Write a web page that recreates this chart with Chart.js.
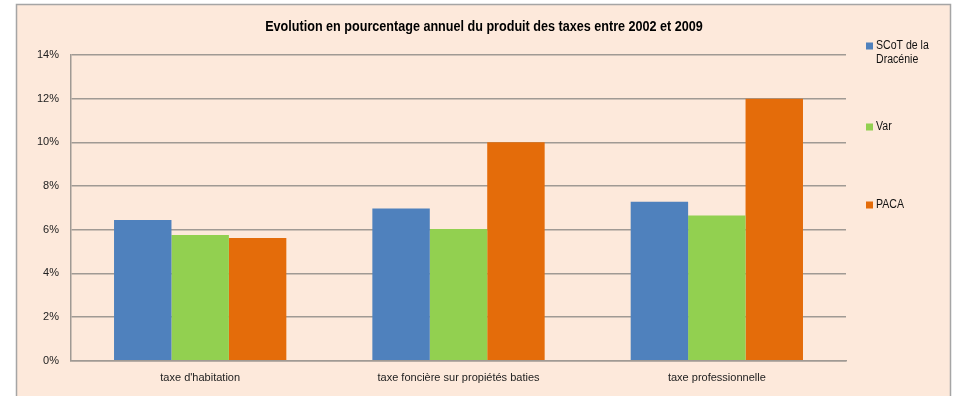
<!DOCTYPE html>
<html>
<head>
<meta charset="utf-8">
<script src="https://cdn.jsdelivr.net/npm/chart.js@4"></script>
<style>
  html, body { margin: 0; padding: 0; background: #ffffff; }
  #wrap { width: 960px; height: 396px; }
</style>
</head>
<body>
<div id="wrap"><canvas id="taxChart" width="960" height="396"></canvas></div>
<script>
const categories = ["taxe d'habitation", "taxe foncière sur propiétés baties", "taxe professionnelle"];
const seriesNames = [["SCoT de la", "Dracénie"], ["Var"], ["PACA"]];
const scotValues = [6.45, 6.97, 7.28];
const varValues = [5.76, 6.03, 6.65];
const pacaValues = [5.62, 10.0, 12.0];
const seriesColors = ["#4F81BD", "#92D050", "#E46C0A"];
const chartTitle = "Evolution en pourcentage annuel du produit des taxes entre 2002 et 2009";

const font = "'Liberation Sans', Arial, sans-serif";

// frame, background and title drawn behind the chart
const framePlugin = {
    id: 'frame',
    beforeDraw(chart) {
        const ctx = chart.ctx;
        ctx.save();
        ctx.fillStyle = '#FDE9DB';
        ctx.fillRect(17, 5, 933, 400);
        ctx.strokeStyle = '#A5A5A5';
        ctx.lineWidth = 1.5;
        ctx.strokeRect(16.5, 4.5, 934, 410);
        ctx.fillStyle = '#000000';
        ctx.font = "bold 14px " + font;
        ctx.textAlign = 'center';
        ctx.textBaseline = 'middle';
        // slightly condensed, like the narrow face of the original
        ctx.translate(484, 27);
        ctx.scale(0.9, 1);
        ctx.fillText(chartTitle, 0, 0);
        ctx.restore();
    }
};

// legend on the right, one entry per dataset
const sideLegend = {
    id: 'sideLegend',
    afterDraw(chart) {
        const ctx = chart.ctx;
        const rows = [46, 127, 205];
        ctx.save();
        ctx.font = "12px " + font;
        ctx.textBaseline = 'middle';
        ctx.textAlign = 'left';
        chart.data.datasets.forEach(function (ds, i) {
            const y = rows[i];
            ctx.fillStyle = ds.backgroundColor;
            ctx.fillRect(866, y - 3.5, 7, 7);
            ctx.fillStyle = '#111111';
            ds.label.forEach(function (line, j) {
                ctx.save();
                ctx.translate(876, y + j * 14);
                ctx.scale(0.88, 1);
                ctx.fillText(line, 0, 0);
                ctx.restore();
            });
        });
        ctx.restore();
    }
};

const ctx = document.getElementById("taxChart").getContext("2d");
new Chart(ctx, {
    type: 'bar',
    data: {
        labels: categories,
        datasets: [
            { label: seriesNames[0], data: scotValues, backgroundColor: seriesColors[0] },
            { label: seriesNames[1], data: varValues, backgroundColor: seriesColors[1] },
            { label: seriesNames[2], data: pacaValues, backgroundColor: seriesColors[2] }
        ]
    },
    plugins: [framePlugin, sideLegend],
    options: {
        responsive: false,
        animation: false,
        layout: { padding: { left: 25, right: 114, top: 55, bottom: 0 } },
        datasets: { bar: { categoryPercentage: 0.667, barPercentage: 1.0 } },
        plugins: {
            legend: { display: false },
            title: { display: false },
            tooltip: { enabled: false }
        },
        scales: {
            x: {
                grid: { display: false, drawTicks: false },
                border: { color: '#A09A94', width: 1.5 },
                ticks: { color: '#222222', font: { family: font, size: 11 }, padding: 11 }
            },
            y: {
                min: 0,
                max: 14,
                grid: { color: '#A09A94', lineWidth: 1.5, drawTicks: false },
                border: { color: '#A09A94', width: 1.5 },
                ticks: {
                    stepSize: 2,
                    color: '#222222',
                    padding: 12,
                    font: { family: font, size: 11 },
                    callback: function (v) { return v + '%'; }
                }
            }
        }
    }
});
</script>
</body>
</html>
